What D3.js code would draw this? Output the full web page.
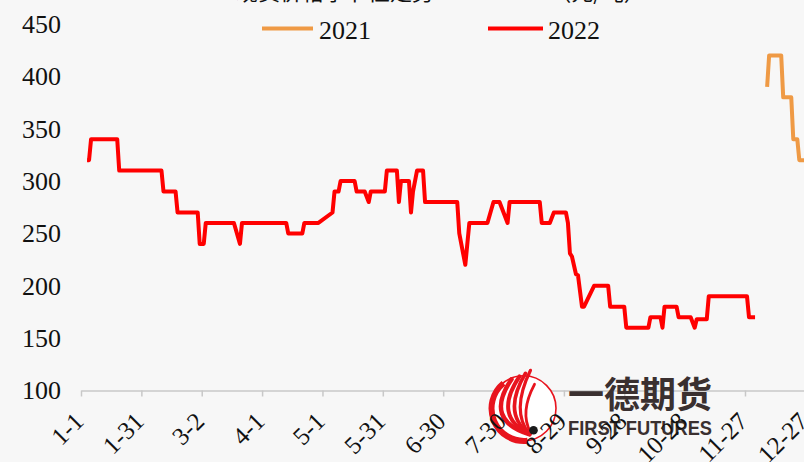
<!DOCTYPE html>
<html>
<head>
<meta charset="utf-8">
<script src="https://cdn.jsdelivr.net/npm/d3@7"></script>
<style>
  html, body { margin: 0; padding: 0; background: #f7f7f7; }
  svg { display: block; }
</style>
</head>
<body>
<div id="chart"></div>
<script>
// ---------- data ----------
const titleText = "现货价格季节性走势 2021-2022 （元/吨）";
const seriesNames = ["2021", "2022"];
const yTicks = [100, 150, 200, 250, 300, 350, 400, 450];
const xTickLabels = ["1-1","1-31","3-2","4-1","5-1","5-31","6-30","7-30","8-29","9-28","10-28","11-27","12-27"];

const dates2022 = ["01-04","01-05","01-06","01-19","01-20","02-10","02-11","02-17","02-18","02-28",
  "03-01","03-03","03-04","03-18","03-21","03-22","04-13","04-14","04-21","04-22",
  "04-29","05-06","05-07","05-09","05-10","05-17","05-18","05-22","05-24","05-25",
  "06-01","06-02","06-07","06-08","06-09","06-13","06-14","06-15","06-17","06-20",
  "06-21","07-07","07-08","07-11","07-13","07-22","07-25","07-28","08-01","08-02",
  "08-17","08-18","08-22","08-24","08-30","08-31","09-01","09-02","09-04","09-05",
  "09-07","09-08","09-13","09-20","09-21","09-28","09-29","10-10","10-11","10-16",
  "10-17","10-18","10-24","10-25","10-31","11-02","11-03","11-08","11-09","11-28",
  "11-29","12-02"];
const values2022 = [320,320,340,340,310,310,290,290,270,270,
  240,240,260,260,240,260,260,250,250,260,
  260,270,290,290,300,300,290,290,280,290,
  290,310,310,280,300,300,270,290,310,310,
  280,280,250,220,260,260,280,280,260,280,
  280,260,260,270,270,260,231,228,211,210,
  180,180,200,200,180,180,160,160,170,170,
  160,180,180,170,170,160,168,168,190,190,
  170,170];

const dates2021 = ["12-08","12-09","12-15","12-16","12-20","12-21","12-23","12-24","12-31"];
const values2021 = [390,420,420,380,380,340,340,320,320];

const colors = { "2021": "#ef9a45", "2022": "#ff0000" };

// ---------- layout ----------
const W = 804, H = 462;
const svg = d3.select("#chart").append("svg")
  .attr("width", W).attr("height", H)
  .attr("viewBox", `0 0 ${W} ${H}`);
svg.append("rect").attr("width", W).attr("height", H).attr("fill", "#f7f7f7");

const md = s => { const [m, d] = s.split("-").map(Number); return new Date(Date.UTC(2022, m - 1, d)); };

const x = d3.scaleUtc()
  .domain([new Date(Date.UTC(2022, 0, 1)), new Date(Date.UTC(2022, 11, 31))])
  .range([81, 813.4]);
const y = d3.scaleLinear().domain([100, 450]).range([390.5, 24]);

const serif = "'Liberation Serif', 'DejaVu Serif', serif";

// title (mostly cut off at the top edge, as in the reference)
svg.append("text").attr("x", 236).attr("y", 0.3)
  .attr("font-family", "'Noto Sans CJK SC', sans-serif")
  .attr("font-size", 22).attr("fill", "#111")
  .text(titleText);

// y labels
svg.append("g").selectAll("text").data(yTicks).join("text")
  .attr("x", 61).attr("y", d => y(d))
  .attr("dy", "0.34em")
  .attr("text-anchor", "end")
  .attr("font-family", serif).attr("font-size", 26).attr("fill", "#111")
  .text(d => d);

// x axis (line + ticks)
const tickDates = xTickLabels.map(md);
const xAxis = d3.axisBottom(x).tickValues(tickDates).tickFormat("").tickSize(6).tickSizeOuter(0);
const gx = svg.append("g").attr("transform", `translate(0,${y(100)})`).call(xAxis);
gx.select(".domain").attr("stroke", "#c8c8c8").attr("stroke-width", 1.5);
gx.selectAll(".tick line").attr("stroke", "#c8c8c8").attr("stroke-width", 1.5);

// ---------- watermark logo ----------
const red = "#e8141e";
const logo = svg.append("g").attr("transform", "translate(523.5,408.3)");
logo.append("circle").attr("r", 32.5).attr("fill", "#ffffff")
  .attr("stroke", red).attr("stroke-width", 1.6);
logo.append("path")
  .attr("d", "M 4,32.5 A 32.5,32.5 0 0 1 -20,-25")
  .attr("fill", "none").attr("stroke", red).attr("stroke-width", 6);
const flames = [
  "M 6,26 Q -40,12 -12,-29",
  "M 6,26 Q -31,8 -4,-32",
  "M 6,26 Q -22,5 2,-35",
  "M 6,26 Q -13,3 7,-38",
  "M 7,24 Q -4,4 11,-24"
];
logo.selectAll("path.flame").data(flames).join("path")
  .attr("class", "flame")
  .attr("d", d => d)
  .attr("fill", "none").attr("stroke", red)
  .attr("stroke-width", (d, i) => [4.5, 4, 3.6, 3.2, 2.8][i])
  .attr("stroke-linecap", "round");
logo.append("circle").attr("cx", 10).attr("cy", 22).attr("r", 4.3).attr("fill", "#1a1a1a");

svg.append("text").attr("x", 568).attr("y", 408)
  .attr("font-family", "'Noto Sans CJK SC', sans-serif")
  .attr("font-weight", "bold").attr("font-size", 36)
  .attr("fill", "#3a3030")
  .attr("textLength", 144).attr("lengthAdjust", "spacingAndGlyphs")
  .text("一德期货");
svg.append("text").attr("x", 568).attr("y", 435)
  .attr("font-family", "'Liberation Sans', Arial, sans-serif")
  .attr("font-weight", "bold").attr("font-size", 20)
  .attr("fill", "#3a3030")
  .attr("textLength", 144).attr("lengthAdjust", "spacingAndGlyphs")
  .text("FIRST FUTURES");

// x tick labels (drawn over logo)
svg.append("g").selectAll("text").data(tickDates).join("text")
  .attr("transform", d => `translate(${x(d) + 4},423) rotate(-45)`)
  .attr("text-anchor", "end")
  .attr("font-family", serif).attr("font-size", 25).attr("fill", "#111")
  .text((d, i) => xTickLabels[i]);

// ---------- lines ----------
const line = d3.line().x(d => x(d[0])).y(d => y(d[1]));
const s2021 = dates2021.map((d, i) => [md(d), values2021[i]]);
const s2022 = dates2022.map((d, i) => [md(d), values2022[i]]);

svg.append("path").datum(s2021).attr("d", line)
  .attr("fill", "none").attr("stroke", colors["2021"]).attr("stroke-width", 4)
  .attr("stroke-linejoin", "round");
svg.append("path").datum(s2022).attr("d", line)
  .attr("fill", "none").attr("stroke", colors["2022"]).attr("stroke-width", 4)
  .attr("stroke-linejoin", "round");

// ---------- legend ----------
const legendItems = [
  { name: seriesNames[0], x1: 262, x2: 313, tx: 319 },
  { name: seriesNames[1], x1: 488, x2: 543, tx: 548 }
];
const lg = svg.append("g");
legendItems.forEach(it => {
  lg.append("line").attr("x1", it.x1).attr("x2", it.x2).attr("y1", 28.5).attr("y2", 28.5)
    .attr("stroke", colors[it.name]).attr("stroke-width", 4);
  lg.append("text").attr("x", it.tx).attr("y", 39)
    .attr("font-family", serif).attr("font-size", 26).attr("fill", "#111")
    .text(it.name);
});
</script>
</body>
</html>
